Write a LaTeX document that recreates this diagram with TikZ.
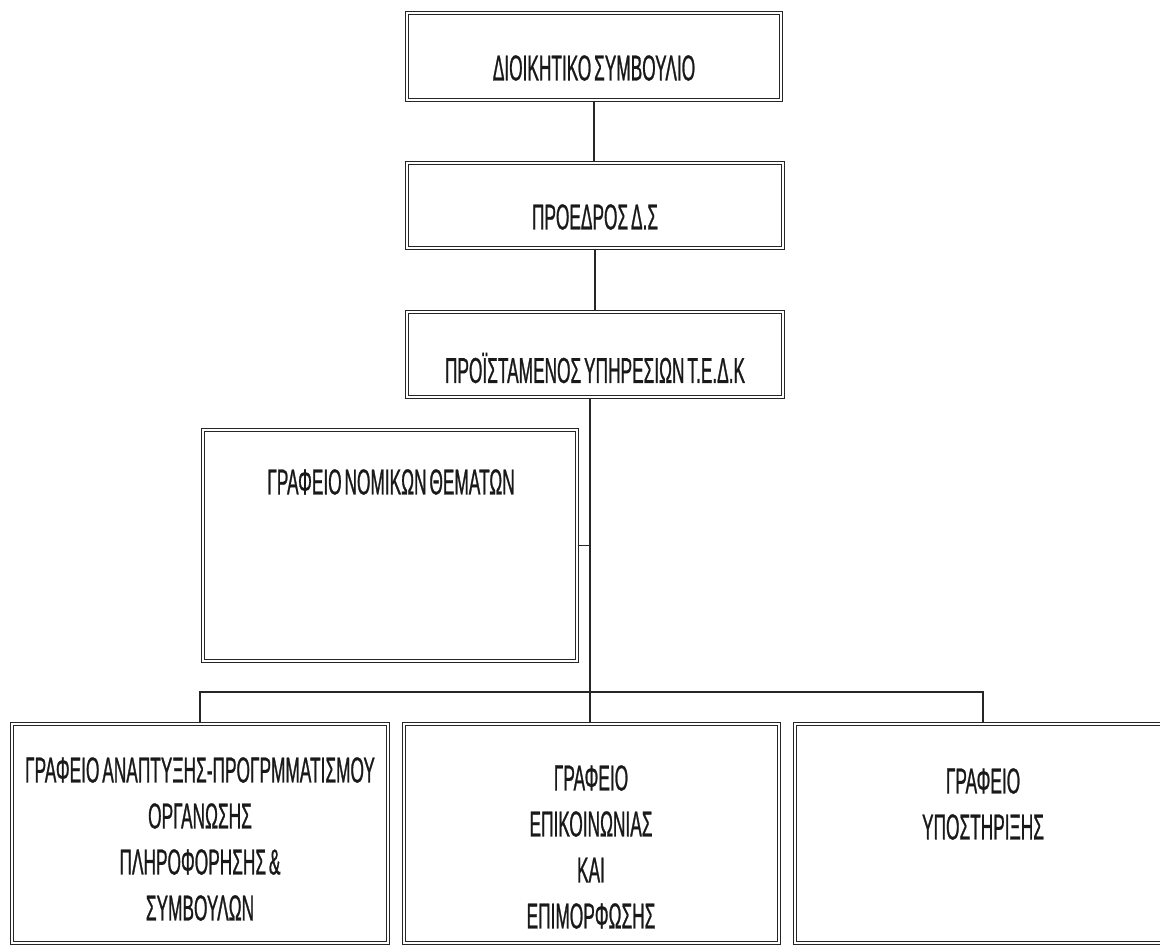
\documentclass[tikz,border=0pt]{standalone}
\usepackage{fontspec}
\setmainfont{Liberation Sans}[FakeStretch=0.48, FakeBold=0.7, WordSpace=0.6]
\begin{document}
\begin{tikzpicture}[x=0.5pt,y=-0.5pt,
  box/.style={draw=black!85, line width=0.6pt, double=white, double distance=1.1pt, rectangle, inner sep=0pt},
  lbl/.style={font=\fontsize{18}{22.5}\selectfont, text=black!90, inner sep=0pt, align=center},
  blbl/.style={font=\fontsize{18}{23}\selectfont, text=black!90, inner sep=0pt, align=center},
  conn/.style={draw=black!85, line width=0.65pt}]
\useasboundingbox (0,0) rectangle (1160,947);
\fill[white] (0,0) rectangle (1160,947);
\clip (0,0) rectangle (1160,947);
% top chain
\node[box, minimum width=187pt, minimum height=43.5pt] (dsB) at (594,56.5) {};
\node[lbl] (ds) at (594,68) {ΔΙΟΙΚΗΤΙΚΟ ΣΥΜΒΟΥΛΙΟ};
\node[box, minimum width=188pt, minimum height=42.5pt] (prB) at (595,205.5) {};
\node[lbl] (pr) at (595,217) {ΠΡΟΕΔΡΟΣ Δ.Σ};
\node[box, minimum width=188pt, minimum height=42.5pt] (psB) at (595,354.5) {};
\node[lbl] (ps) at (595,368) {ΠΡΟΪΣΤΑΜΕΝΟΣ ΥΠΗΡΕΣΙΩΝ Τ.Ε.Δ.Κ};
% legal office
\node[box, minimum width=187pt, minimum height=115.5pt] (lgB) at (390,545.5) {};
\node[lbl] (lg) at (391,482) {ΓΡΑΦΕΙΟ ΝΟΜΙΚΩΝ ΘΕΜΑΤΩΝ};
% bottom offices
\node[box, minimum width=188pt, minimum height=109.5pt] (aB) at (200,833.5) {};
\node[blbl] (a) at (200,839) {ΓΡΑΦΕΙΟ ΑΝΑΠΤΥΞΗΣ-ΠΡΟΓΡΜΜΑΤΙΣΜΟΥ\\ΟΡΓΑΝΩΣΗΣ\\ΠΛΗΡΟΦΟΡΗΣΗΣ \&\\ΣΥΜΒΟΥΛΩΝ};
\node[box, minimum width=187.5pt, minimum height=109.5pt] (bB) at (591.5,833.5) {};
\node[blbl] (b) at (591,847) {ΓΡΑΦΕΙΟ\\ΕΠΙΚΟΙΝΩΝΙΑΣ\\ΚΑΙ\\ΕΠΙΜΟΡΦΩΣΗΣ};
\node[box, minimum width=188pt, minimum height=109.5pt] (cB) at (983,833.5) {};
\node[blbl] (c) at (983,804) {ΓΡΑΦΕΙΟ\\ΥΠΟΣΤΗΡΙΞΗΣ};
% connectors
\coordinate (tr) at (590,692);
\draw[conn] (dsB.south) -- (dsB.south |- prB.north);
\draw[conn] (prB.south) -- (prB.south |- psB.north);
\draw[conn] (psB.south -| tr) -- (tr);
\draw[conn] (lgB.east) -- (lgB.east -| tr);
\draw[conn] (aB.north) -- (aB.north |- tr) -- (cB.north |- tr) -- (cB.north);
\draw[conn] (tr) -- (tr |- bB.north);
\end{tikzpicture}
\end{document}
